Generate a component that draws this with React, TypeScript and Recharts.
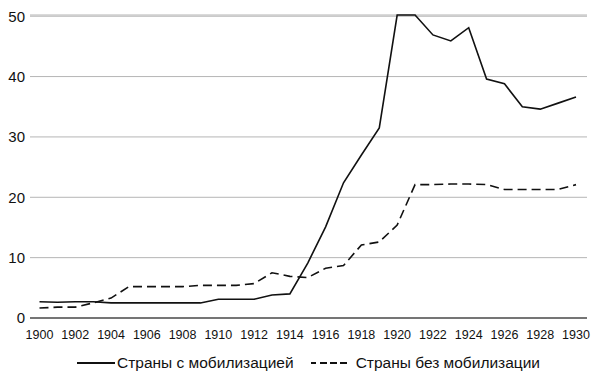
import { CartesianGrid, Legend, Line, LineChart, XAxis, YAxis } from "recharts";

const YEARS = [
  1900, 1901, 1902, 1903, 1904, 1905, 1906, 1907, 1908, 1909, 1910,
  1911, 1912, 1913, 1914, 1915, 1916, 1917, 1918, 1919, 1920,
  1921, 1922, 1923, 1924, 1925, 1926, 1927, 1928, 1929, 1930,
];

const MOBILIZED = [
  2.7, 2.6, 2.7, 2.7, 2.5, 2.5, 2.5, 2.5, 2.5, 2.5, 3.1,
  3.1, 3.1, 3.8, 4.0, 9.1, 15.1, 22.4, 27.0, 31.5, 50.2,
  50.2, 46.9, 45.9, 48.1, 39.6, 38.8, 35.0, 34.6, 35.6, 36.6,
];

const NOT_MOBILIZED = [
  1.65, 1.8, 1.8, 2.5, 3.3, 5.2, 5.2, 5.2, 5.2, 5.4, 5.4,
  5.4, 5.7, 7.5, 6.9, 6.7, 8.25, 8.7, 12.1, 12.6, 15.4,
  22.1, 22.1, 22.2, 22.2, 22.1, 21.3, 21.3, 21.3, 21.3, 22.1,
];

const X_TICKS = [
  1900, 1902, 1904, 1906, 1908, 1910, 1912, 1914, 1916, 1918, 1920,
  1922, 1924, 1926, 1928, 1930,
];
const Y_TICKS = [0, 10, 20, 30, 40, 50];

const LABEL_A = "Страны с мобилизацией";
const LABEL_B = "Страны без мобилизации";

const rows = YEARS.map((year, i) => ({
  year,
  a: MOBILIZED[i],
  b: NOT_MOBILIZED[i],
}));

const FONT = "'Liberation Sans', Arial, sans-serif";

function LegendRow() {
  return (
    <div
      style={{
        display: "flex",
        alignItems: "center",
        paddingLeft: 77,
        fontFamily: FONT,
        fontSize: 15.5,
        color: "#111",
        height: 20,
      }}
    >
      <svg width={38} height={10}>
        <line x1={0} y1={5} x2={38} y2={5} stroke="#111" strokeWidth={1.8} />
      </svg>
      <span style={{ marginLeft: 2, marginRight: 17 }}>{LABEL_A}</span>
      <svg width={42} height={10}>
        <line x1={0} y1={5} x2={42} y2={5} stroke="#111" strokeWidth={1.8} strokeDasharray="5 4 7 3 7 3 7 20" />
      </svg>
      <span style={{ marginLeft: 3 }}>{LABEL_B}</span>
    </div>
  );
}

export default function App() {
  return (
    <div style={{ position: "absolute", left: 0, top: 0, background: "#fff" }}>
      <LineChart
        width={600}
        height={379}
        data={rows}
        margin={{ top: 15, right: 13, left: 0, bottom: 11 }}
      >
        <CartesianGrid horizontal vertical={false} stroke="#b5b5b5" strokeWidth={1} />
        <XAxis
          dataKey="year"
          type="number"
          domain={[1900, 1930]}
          ticks={X_TICKS}
          padding={{ left: 9.5, right: 11 }}
          axisLine={{ stroke: "#111", strokeWidth: 1.2 }}
          tickLine={false}
          tickSize={0}
          tickMargin={12}
          height={30}
          tick={{ fontSize: 12.5, fill: "#111", fontFamily: FONT }}
          interval={0}
        />
        <YAxis
          domain={[0, 50]}
          ticks={Y_TICKS}
          axisLine={false}
          tickLine={false}
          tickSize={0}
          tickMargin={5}
          width={30}
          tick={{ fontSize: 15, fill: "#111", fontFamily: FONT }}
        />
        <Legend
          verticalAlign="bottom"
          height={20}
          wrapperStyle={{ bottom: 6 }}
          content={() => <LegendRow />}
        />
        <Line
          type="linear"
          dataKey="a"
          name={LABEL_A}
          stroke="#111"
          strokeWidth={1.6}
          dot={false}
          isAnimationActive={false}
        />
        <Line
          type="linear"
          dataKey="b"
          name={LABEL_B}
          stroke="#111"
          strokeWidth={1.6}
          strokeDasharray="9 5"
          dot={false}
          isAnimationActive={false}
        />
      </LineChart>
    </div>
  );
}
